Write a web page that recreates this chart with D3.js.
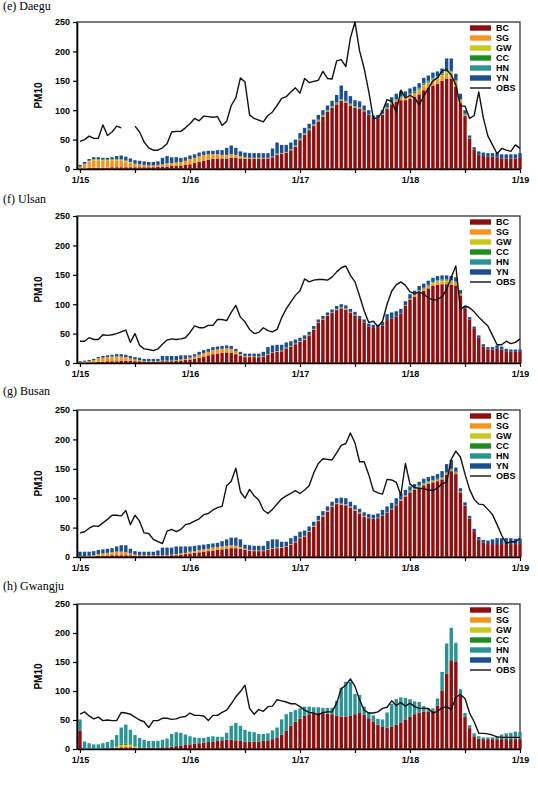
<!DOCTYPE html>
<html lang="en">
<head>
<meta charset="UTF-8">
<title>PM10 source contributions</title>
<script src="https://d3js.org/d3.v7.min.js"></script>
<style>
  body { margin: 0; background: #fff; }
  svg text { font-family: Arial, "Liberation Sans", sans-serif; }
  .title { font-family: "Times New Roman", "Liberation Serif", serif; font-size: 12px; }
  .tick text { font-size: 9px; font-weight: bold; }
  .leg { font-size: 9px; font-weight: bold; }
  .ylab { font-size: 10px; font-weight: bold; }
</style>
</head>
<body>
<svg width="538" height="796"></svg>
<script>
// hourly values, 1/15 00h .. 1/19 00h (97 hours)
const dayLabels = ["1/15", "1/16", "1/17", "1/18", "1/19"];
const sources = ["BC", "SG", "GW", "CC", "HN", "YN"];
const colors = ["#8e0f0f", "#f7941d", "#c9c91a", "#1e8c1e", "#2a9494", "#1c4f8f"];

// (e) Daegu
const daeguBC = [1,1,2,2,2,2,2,3,3,3,3,3, 3,3,3,3,3,4,4,4,5,5,6,7, 8,10,12,14,16,17,18,18,18,19,19,18,
  17,17,17,17,18,18,20,24,26,28,32,38, 49,58,66,73,81,89,97,104,110,116,113,108,
  104,102,98,92,85,86,92,102,110,114,117,117, 120,123,127,134,138,142,145,150,154,154,140,112,
  90,52,33,25,22,21,21,20,18,18,18,18, 20];
const daeguSG = [3,7,11,13,13,12,12,12,12,11,10,8, 6,5,4,3,3,3,4,5,5,6,6,7, 9,9,10,10,9,8,7,6,6,6,5,4,
  3,2,2,2,1,1,1,1,1,1,1,1, 1,1,1,1,1,1,1,1,1,1,1,1, 1,1,0,0,0,0,1,1,2,3,4,4,
  5,6,7,8,8,9,9,9,10,10,8,5, 2,0,0,0,0,0,0,0,0,0,0,0, 0];
const daeguGW = [0,0,1,1,1,1,1,1,1,1,1,1, 0,0,0,0,0,0,0,0,0,0,0,0, 0,0,0,0,0,0,0,0,0,0,0,0,
  0,0,0,0,0,0,0,0,0,0,0,0, 0,0,0,0,0,0,0,0,0,0,0,0, 0,0,0,0,0,0,0,0,0,0,0,0,
  0,0,1,1,1,1,1,1,1,1,1,0, 0,0,0,0,0,0,0,0,0,0,0,0, 0];
const daeguCC = [0,0,0,1,1,1,1,1,1,1,1,0, 0,0,0,0,0,0,0,0,0,0,0,0, 0,0,0,0,0,0,0,0,0,0,0,0,
  0,0,0,0,0,0,0,0,0,0,0,0, 1,1,1,1,1,1,1,1,1,1,1,1, 1,1,1,0,0,0,0,1,1,1,1,1,
  2,2,2,2,2,2,2,2,1,1,1,1, 1,0,0,0,0,0,0,0,0,0,0,0, 0];
const daeguHN = [0,1,0,0,0,0,0,0,0,1,0,0, 0,0,0,0,0,0,0,1,0,0,0,0, 0,0,0,0,0,0,0,0,0,0,0,0,
  0,0,0,0,0,0,0,1,0,0,1,1, 1,1,1,1,1,1,1,1,1,1,1,1, 1,1,1,1,0,0,1,1,1,1,1,1,
  1,1,1,1,1,1,1,1,1,1,1,1, 1,1,0,0,0,0,0,0,0,0,0,0, 0];
const daeguYN = [3,3,3,3,3,3,3,3,5,6,6,6, 6,6,6,6,6,6,11,12,10,9,7,6, 6,6,6,6,6,6,7,8,12,15,12,8,
  8,8,8,8,8,8,14,19,14,12,11,10, 9,9,8,8,8,8,8,9,13,23,17,13, 10,10,8,7,6,6,6,7,8,9,9,9,
  9,8,8,9,9,9,8,8,21,21,11,9, 6,4,4,5,6,6,6,7,7,7,7,7, 7];
const daeguOBS = [47,50,56,52,52,75,57,63,73,70,null,null, 73,63,46,36,32,32,36,43,63,64,64,70,
  77,86,82,90,89,88,89,74,81,108,121,155, 148,92,86,83,80,91,97,108,120,123,131,138,
  129,154,147,149,151,166,154,153,184,186,174,223, 250,201,171,132,86,87,98,118,115,97,134,121,
  125,121,109,124,137,150,155,167,169,160,143,107, 107,86,91,131,87,56,41,26,35,32,30,41, 35];

// (f) Ulsan
const ulsanBC = [0,0,1,1,2,2,3,3,3,4,4,4, 3,3,2,2,2,2,3,3,3,4,4,5, 6,7,9,11,13,15,16,17,18,17,15,12,
  10,10,10,10,11,14,17,19,20,25,28,32, 36,40,47,57,68,74,80,85,90,93,91,86,
  81,75,69,62,61,61,64,73,76,79,84,97, 108,113,120,123,127,131,133,134,134,133,132,115,
  92,74,58,43,28,23,23,24,23,20,19,19, 19];
const ulsanSG = [1,2,2,4,6,7,7,8,8,7,6,4, 3,2,1,1,1,1,1,1,1,1,2,2, 3,4,5,6,6,7,7,7,7,7,5,3,
  2,2,1,1,1,1,1,1,1,1,1,1, 1,1,1,1,1,1,1,1,1,1,1,1, 1,0,0,0,0,0,0,0,0,0,0,1,
  1,2,2,3,4,4,5,5,5,5,4,2, 0,0,0,0,0,0,0,0,0,0,0,0, 0];
const ulsanGW = [0,0,0,0,0,0,0,0,0,0,0,0, 0,0,0,0,0,0,0,0,0,0,0,0, 0,0,0,0,0,0,0,0,0,0,0,0,
  0,0,0,0,0,0,0,0,0,0,0,0, 0,0,0,0,0,0,0,0,0,0,0,0, 0,0,0,0,0,0,0,0,0,0,0,0,
  0,0,0,0,0,1,1,1,1,1,1,0, 0,0,0,0,0,0,0,0,0,0,0,0, 0];
const ulsanCC = [0,0,0,0,0,0,0,0,0,0,0,0, 0,0,0,0,0,0,0,0,0,0,0,0, 0,0,0,0,0,0,0,0,0,0,0,0,
  0,0,0,0,0,0,0,0,0,0,0,0, 0,0,0,0,0,0,0,0,0,0,0,0, 0,0,0,0,0,0,0,0,0,0,0,0,
  1,1,1,1,1,1,1,1,1,1,1,1, 0,0,0,0,0,0,0,0,0,0,0,0, 0];
const ulsanHN = [0,0,0,0,0,0,0,0,0,0,0,0, 0,0,0,0,0,0,0,0,0,0,0,0, 0,0,0,0,0,0,0,0,0,0,0,0,
  0,0,0,0,0,0,0,0,0,0,0,0, 0,0,0,0,0,0,0,0,1,1,1,0, 0,0,0,0,0,0,0,0,0,0,0,0,
  0,0,1,1,1,1,1,1,1,1,1,0, 0,0,0,0,0,0,0,0,0,0,0,0, 0];
const ulsanYN = [2,2,2,2,2,3,3,3,4,4,4,4, 4,4,4,4,4,4,8,8,8,7,7,6, 4,4,5,5,5,5,5,5,5,5,4,4,
  4,4,5,5,7,12,12,11,10,9,8,7, 6,6,5,5,5,5,5,5,5,5,5,5, 5,5,5,5,4,4,6,10,10,9,8,7,
  7,7,7,7,7,7,7,7,7,7,7,6, 5,4,4,4,4,4,4,6,5,4,4,4, 4];
const ulsanOBS = [37,37,43,40,40,48,47,48,50,53,56,35, 50,30,24,23,21,24,32,39,41,40,41,43,
  52,63,60,60,64,64,74,74,72,86,98,78, 70,57,50,52,60,55,53,57,77,92,104,115,
  123,143,138,141,142,142,141,146,155,162,165,149, 138,114,89,69,71,62,71,100,122,133,138,132,
  121,118,121,117,111,107,108,113,125,146,165,91, 97,94,87,78,70,63,47,31,31,37,33,35, 41];

// (g) Busan
const busanBC = [0,0,1,1,2,2,2,3,3,3,3,3, 2,2,2,2,2,2,2,2,3,3,4,5, 6,7,8,9,10,11,12,13,14,15,15,14,
  12,11,10,10,10,12,14,15,16,17,21,25, 32,35,43,51,61,69,77,85,90,89,88,84,
  79,74,68,66,65,66,70,75,81,88,96,103, 110,114,118,122,125,127,129,132,140,146,141,110,
  87,65,44,30,24,22,22,22,22,22,22,22, 22];
const busanSG = [1,1,1,2,3,4,5,5,6,6,5,3, 2,1,1,1,1,1,1,1,1,2,2,2, 3,3,4,4,4,5,5,5,5,5,4,3,
  2,1,1,1,1,1,1,1,1,1,1,1, 1,1,1,1,1,1,1,1,1,1,1,1, 1,1,1,0,0,0,0,0,0,0,1,1,
  1,1,2,2,2,2,2,2,2,2,2,1, 0,0,0,0,0,0,0,0,0,0,0,0, 0];
const busanGW = [0,0,0,0,0,0,0,0,0,0,0,0, 0,0,0,0,0,0,0,0,0,0,0,0, 0,0,0,0,0,0,0,0,0,0,0,0,
  0,0,0,0,0,0,0,0,0,0,0,0, 0,0,0,0,0,0,0,0,0,0,0,0, 0,0,0,0,0,0,0,0,0,0,0,0,
  0,0,0,0,0,0,0,0,0,0,0,0, 0,0,0,0,0,0,0,0,0,0,0,0, 0];
const busanCC = [0,0,0,0,0,0,0,0,0,0,0,0, 0,0,0,0,0,0,0,0,0,0,0,0, 0,0,0,0,0,0,0,0,0,0,0,0,
  0,0,0,0,0,0,0,0,0,0,0,0, 0,0,0,0,0,0,0,0,0,0,0,0, 0,0,0,0,0,0,0,0,0,0,0,0,
  1,1,1,1,1,1,1,1,1,1,1,0, 0,0,0,0,0,0,0,0,0,0,0,0, 0];
const busanHN = [0,0,0,0,0,0,0,0,0,0,0,0, 0,0,0,0,0,0,0,0,0,0,0,0, 0,0,0,0,0,0,0,0,0,0,0,0,
  0,0,0,0,0,0,0,0,0,0,0,0, 0,0,0,1,1,1,1,1,1,1,1,1, 1,1,1,1,1,1,1,1,1,1,1,1,
  1,1,1,1,1,1,1,1,1,1,1,1, 1,1,0,0,0,0,0,0,0,0,0,0, 0];
const busanYN = [8,8,7,7,7,7,7,7,9,11,12,8, 6,6,6,6,6,8,13,13,12,13,12,11, 9,9,8,8,8,7,7,9,11,13,14,13,
  7,8,8,8,8,14,15,14,9,8,10,10, 10,9,8,7,7,7,7,7,8,10,10,8, 7,6,6,6,6,7,9,10,10,11,10,9,
  7,7,6,7,7,7,8,10,14,15,7,5, 5,4,4,4,5,6,8,10,10,10,10,9, 9];
const busanOBS = [41,43,49,53,52,58,64,71,71,70,79,55, 71,61,41,40,30,26,23,44,47,43,47,55,
  57,61,65,72,74,80,84,86,121,129,151,111, 100,115,104,97,80,74,81,90,99,104,108,113,
  108,114,121,143,159,167,166,165,177,190,193,211, 194,162,162,140,113,109,107,132,131,127,105,159,
  124,118,117,116,114,113,117,125,127,166,180,170, 141,115,98,90,89,81,72,55,37,23,26,26, 32];

// (h) Gwangju
const gwangjuBC = [32,0,0,0,0,1,1,2,2,3,3,3, 2,2,2,2,2,2,3,3,4,5,6,7, 8,9,10,11,12,13,14,15,16,16,15,14,
  13,13,13,13,14,15,17,20,25,32,40,47, 52,57,60,61,62,62,61,60,58,56,56,57,
  60,62,59,53,47,42,38,37,38,42,46,51, 56,60,63,64,64,66,75,100,130,153,150,92,
  55,36,22,18,17,17,17,17,17,17,17,17, 17];
const gwangjuSG = [0,0,0,0,0,0,0,0,1,2,2,2, 1,0,0,0,0,0,0,0,0,0,0,0, 0,0,0,0,0,0,0,0,0,0,0,0,
  0,0,0,0,0,0,0,0,0,0,0,0, 0,0,0,0,0,0,0,0,0,0,0,0, 0,0,0,0,0,0,0,0,0,0,0,0,
  0,0,0,0,0,0,0,0,0,0,0,0, 0,0,0,0,0,0,0,0,0,0,0,0, 0];
const gwangjuGW = [0,0,0,0,0,0,0,0,1,2,2,2, 1,0,0,0,0,0,0,0,0,0,0,0, 0,0,0,0,0,0,0,0,0,0,0,0,
  0,0,0,0,0,0,0,0,0,0,0,0, 0,0,0,0,0,0,0,0,0,0,0,0, 0,0,0,0,0,0,0,0,0,0,0,0,
  0,0,0,0,0,0,0,0,0,0,0,0, 0,0,0,0,0,0,0,0,0,0,0,0, 0];
const gwangjuCC = [0,0,0,0,0,0,0,0,1,2,2,1, 1,0,0,0,0,0,0,0,0,0,0,0, 0,0,0,0,0,0,0,0,0,0,0,0,
  0,0,0,0,0,0,0,0,0,0,0,0, 0,0,0,0,0,0,0,0,0,0,0,0, 0,0,0,0,0,0,0,0,0,0,0,0,
  0,0,0,0,0,0,0,0,0,0,0,0, 0,0,0,0,0,0,0,0,0,0,0,0, 0];
const gwangjuHN = [19,13,10,8,8,9,11,14,19,28,33,25, 19,17,14,12,12,12,13,15,22,24,22,18,
  14,11,9,8,9,9,7,6,12,24,30,26, 20,17,16,13,12,12,15,17,26,28,24,20,
  18,16,13,11,10,9,10,11,25,49,60,59, 35,31,14,10,11,10,13,26,40,44,43,37,
  30,22,18,10,6,4,12,33,52,56,33,11, 7,5,5,4,3,3,3,5,8,10,11,13, 12];
const gwangjuYN = [0,0,0,0,0,0,0,0,0,0,0,0, 0,0,0,0,0,0,0,0,0,0,0,0, 0,0,0,0,0,0,0,0,0,0,0,0,
  0,0,0,0,0,0,0,0,0,0,0,0, 0,0,0,0,0,0,0,0,0,0,0,0, 0,0,0,0,0,0,0,0,0,0,0,0,
  0,0,0,0,0,0,0,0,0,0,0,0, 0,0,0,0,0,0,0,0,0,0,0,0, 0];
const gwangjuOBS = [60,64,57,52,55,49,50,49,49,63,62,60, 55,50,47,37,49,49,53,53,51,52,55,56,
  62,58,58,57,49,58,58,63,67,78,90,99, 110,70,60,68,65,73,74,85,83,81,78,78,
  73,67,63,62,59,63,64,64,79,104,110,121, 108,85,67,62,62,64,70,72,83,75,80,74,
  79,73,70,70,70,62,65,71,73,68,89,94, 87,62,47,27,27,26,24,21,20,20,20,20, 20];

const panels = [
  { title: "(e) Daegu", top: 22, h: 147, titleY: 10,
    series: [daeguBC, daeguSG, daeguGW, daeguCC, daeguHN, daeguYN], obs: daeguOBS },
  { title: "(f) Ulsan", top: 216, h: 147, titleY: 203,
    series: [ulsanBC, ulsanSG, ulsanGW, ulsanCC, ulsanHN, ulsanYN], obs: ulsanOBS },
  { title: "(g) Busan", top: 410, h: 147, titleY: 395,
    series: [busanBC, busanSG, busanGW, busanCC, busanHN, busanYN], obs: busanOBS },
  { title: "(h) Gwangju", top: 604, h: 145, titleY: 590,
    series: [gwangjuBC, gwangjuSG, gwangjuGW, gwangjuCC, gwangjuHN, gwangjuYN], obs: gwangjuOBS }
];

const svg = d3.select("svg");
const left = 77, right = 520;
const x = d3.scaleLinear().domain([-0.65, 96]).range([left, right]);
const barW = 3.4;
const color = d3.scaleOrdinal().domain(sources).range(colors);

panels.forEach(p => {
  const g = svg.append("g");
  const y = d3.scaleLinear().domain([0, 250]).range([p.top + p.h, p.top]);

  // rows for the stack
  const rows = d3.range(97).map(i => {
    const r = { hour: i };
    sources.forEach((s, k) => r[s] = p.series[k][i]);
    return r;
  });
  const stacked = d3.stack().keys(sources)(rows);

  g.append("text").attr("class", "title")
    .attr("x", 3).attr("y", p.titleY).text(p.title);

  // frame (top and right)
  g.append("rect")
    .attr("x", left).attr("y", p.top)
    .attr("width", right - left).attr("height", p.h)
    .attr("fill", "none").attr("stroke", "#333").attr("stroke-width", 1.3);

  g.selectAll("g.layer")
    .data(stacked)
    .join("g")
    .attr("fill", d => color(d.key))
    .selectAll("rect")
    .data(d => d)
    .join("rect")
    .attr("x", d => x(d.data.hour) - barW / 2)
    .attr("width", barW)
    .attr("y", d => y(d[1]))
    .attr("height", d => Math.max(0, y(d[0]) - y(d[1])));

  const line = d3.line()
    .defined(d => d != null)
    .x((d, i) => x(i))
    .y(d => y(d));
  g.append("path")
    .datum(p.obs)
    .attr("fill", "none")
    .attr("stroke", "#111")
    .attr("stroke-width", 1.4)
    .attr("stroke-linejoin", "round")
    .attr("d", line);

  // axes
  const yAxis = g.append("g")
    .attr("transform", `translate(${left},0)`)
    .call(d3.axisLeft(y).tickValues(d3.range(0, 251, 50)).tickSize(4).tickSizeOuter(0).tickPadding(3));
  yAxis.select(".domain").attr("stroke", "#000").attr("stroke-width", 1.6);

  const xAxis = g.append("g")
    .attr("transform", `translate(0,${p.top + p.h})`)
    .call(d3.axisBottom(x).tickValues(d3.range(0, 97, 12)).tickSize(4).tickSizeOuter(0).tickPadding(4)
      .tickFormat(d => d % 24 === 0 ? dayLabels[d / 24] : ""));
  xAxis.select(".domain").attr("stroke", "#000").attr("stroke-width", 1.6);
  g.selectAll(".tick line").attr("stroke-width", 1.2);

  g.append("text").attr("class", "ylab")
    .attr("transform", `translate(42,${p.top + p.h / 2}) rotate(-90)`)
    .attr("text-anchor", "middle")
    .text("PM10");

  // legend
  const leg = g.append("g").attr("transform", `translate(470,${p.top + 6})`);
  sources.concat(["OBS"]).forEach((s, k) => {
    if (s === "OBS") {
      leg.append("line").attr("x1", 0).attr("x2", 21).attr("y1", k * 10).attr("y2", k * 10)
        .attr("stroke", "#111").attr("stroke-width", 1.4);
    } else {
      leg.append("rect").attr("x", 0).attr("y", k * 10 - 2.7).attr("width", 21).attr("height", 5.4)
        .attr("fill", color(s));
    }
    leg.append("text").attr("class", "leg")
      .attr("x", 26).attr("y", k * 10).attr("dy", "0.35em").text(s);
  });
});
</script>
</body>
</html>
